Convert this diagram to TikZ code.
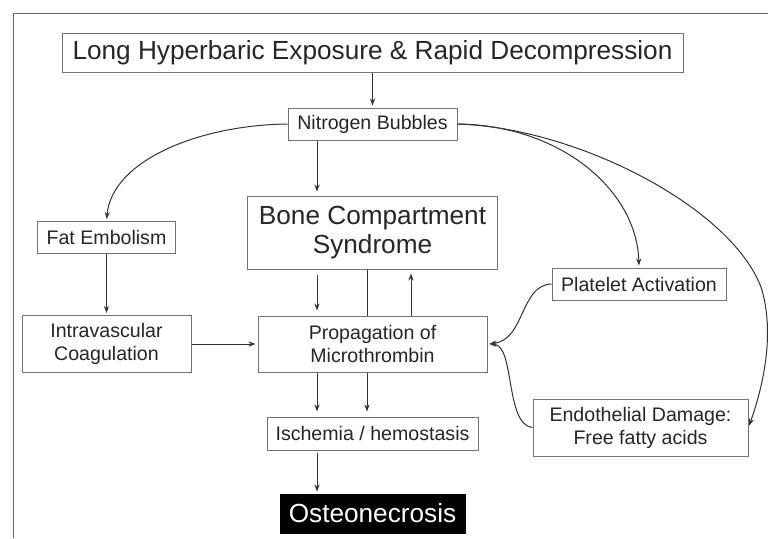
\documentclass[tikz,border=0pt]{standalone}
\usepackage{fontspec}
\setmainfont{Liberation Sans}
\usepackage{tikz}
\usetikzlibrary{positioning, arrows.meta, calc}
\tikzset{
  flowbox/.style={
    draw=black!55, line width=0.5pt,
    fill=white,
    text=black!85,
    align=center,
    inner sep=0pt,
    font=\fontsize{9.8}{11.5}\selectfont
  },
  bigbox/.style={
    flowbox,
    font=\fontsize{13.1}{14.5}\selectfont
  },
  darkbox/.style={
    flowbox,
    draw=black, fill=black, text=white,
    font=\fontsize{13.1}{14.5}\selectfont
  },
  link/.style={
    -{Stealth[length=3.5pt,width=2.6pt]},
    line width=0.5pt,
    draw=black!80,
    shorten >=1pt
  },
  plainlink/.style={
    line width=0.5pt,
    draw=black!80
  }
}

\begin{document}
\begin{tikzpicture}[x=0.5pt, y=-0.5pt]
  \useasboundingbox (0,0) rectangle (768,538);
  \draw[black!60, line width=0.5pt] (768,13) -- (13,13) -- (13,538);

  % main column
  \node[bigbox, minimum width=310.5pt, minimum height=19.5pt] (top) at (372.5,52.5) {Long Hyperbaric Exposure \& Rapid Decompression};
  \node[flowbox, minimum width=84.5pt, minimum height=16pt, below=17.5pt of top] (nb) {Nitrogen Bubbles};
  \node[bigbox, minimum width=125pt, minimum height=36.5pt, below=27.5pt of nb] (bone) {Bone Compartment\\Syndrome};
  \node[flowbox, minimum width=114.5pt, minimum height=28pt, below=23pt of bone] (prop) {Propagation of\\Microthrombin};
  \node[flowbox, minimum width=105.5pt, minimum height=16.5pt, below=22pt of prop] (isch) {Ischemia / hemostasis};
  \node[darkbox, minimum width=92.5pt, minimum height=19.5pt, below=21.5pt of isch] (osteo) {Osteonecrosis};

  % side boxes
  \node[flowbox, minimum width=84.5pt, minimum height=28.5pt, left=33pt of prop] (intra) {Intravascular\\Coagulation};
  \node[flowbox, minimum width=69pt, minimum height=16pt, above=30.5pt of intra] (fat) {Fat Embolism};
  \node[flowbox, minimum width=87pt, minimum height=16pt] (plt) at (639,284) {Platelet Activation};
  \node[flowbox, minimum width=107.5pt, minimum height=28.5pt] (endo) at (640.5,427.5) {Endothelial Damage:\\Free fatty acids};

  \coordinate (colL) at (317,0);
  \coordinate (colM) at (367,0);
  \coordinate (colR) at (411,0);

  \draw[link] (top) -- (nb);
  \draw[link, shorten >=2pt] (nb.south -| colL) -- (bone.north -| colL);
  \draw[link, shorten >=2.5pt, shorten <=2.5pt] (bone.south -| colL) -- (prop.north -| colL);
  \draw[plainlink] (bone.south -| colM) -- (prop.north -| colM);
  \draw[link, shorten >=2pt] (prop.north -| colR) -- (bone.south -| colR);
  \draw[link, shorten >=2.5pt] (prop.south -| colL) -- (isch.north -| colL);
  \draw[link, shorten >=2.5pt] (prop.south -| colM) -- (isch.north -| colM);
  \draw[link, shorten <=1pt] (isch.south -| colL) -- (osteo.north -| colL);
  \draw[link] (fat) -- (intra);
  \draw[link] (intra.east) -- (intra.east -| prop.west);

  % curved links
  \draw[link] (nb.west) .. controls (200,125) and (112,160) .. (fat.north);
  \draw[link] (nb.east) .. controls (560,125) and (637,190) .. (plt.north);
  \draw[link] (nb.east) .. controls (580,128) and (735,210) .. (762,290)
    .. controls (776,340) and (760,395) .. (endo.east);
  \draw[link] (plt.west) .. controls (520,285) and (525,340) .. (prop.east);
  \draw[link] (endo.west) .. controls (505,425) and (515,345) .. (prop.east);
\end{tikzpicture}
\end{document}
